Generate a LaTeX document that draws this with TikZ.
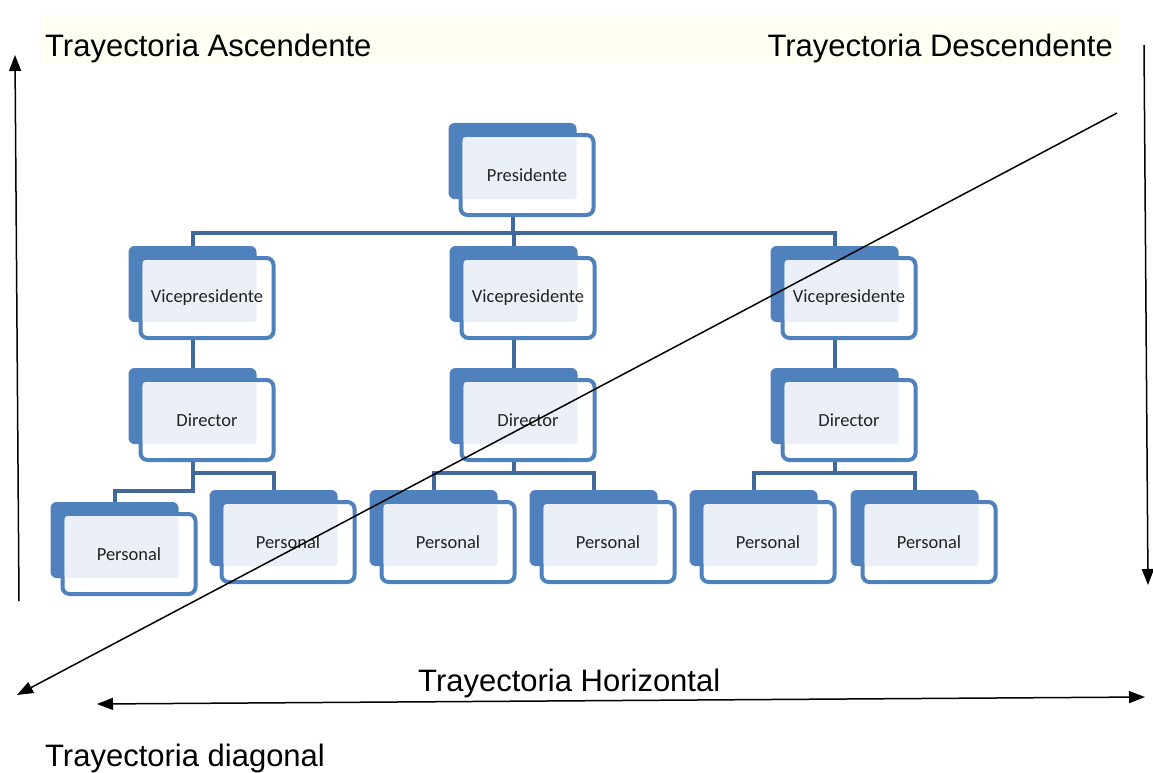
\documentclass[tikz,border=0pt]{standalone}
\usepackage{fontspec}
\setmainfont{Liberation Sans}
\newfontfamily\boxfont{Carlito}
\usetikzlibrary{arrows.meta,calc}
\pgfdeclarelayer{back}
\pgfdeclarelayer{bg}
\pgfsetlayers{back,bg,main}
\definecolor{boxblue}{HTML}{4F81BD}
\definecolor{connblue}{HTML}{41699C}
\definecolor{lightfill}{HTML}{EBF0F8}
\definecolor{cream}{HTML}{FEFEF3}
\definecolor{boxtext}{HTML}{222222}
\tikzset{
  backbox/.style={fill=boxblue, rounded corners=6pt, minimum width=128pt, minimum height=76pt, inner sep=0pt},
  frontbox/.style={draw=boxblue, fill=white, line width=4pt, rounded corners=7pt, minimum width=133pt, minimum height=80pt, inner sep=0pt},
  boxlabel/.style={font=\boxfont\fontsize{18.5}{21}\selectfont, text=boxtext, inner sep=0pt},
  conn/.style={draw=connblue, line width=4pt},
  arr/.style={line width=1.5pt, -{Triangle[length=16pt,width=12pt]}},
  darr/.style={line width=1.5pt, {Triangle[length=16pt,width=12pt]}-{Triangle[length=16pt,width=12pt]}},
  title/.style={font=\fontsize{31}{37}\selectfont, inner sep=0pt},
}
\newcommand{\orgbox}[4]{%
  \node[backbox] (#1b) at (#2-14.5,#3-14) {};
  \node[frontbox] (#1f) at (#2,#3) {};
  \fill[lightfill, rounded corners=3pt] (#2-64.5,#3-38) rectangle (#2+49.5,#3+24);
  \node[boxlabel] (#1) at (#2,#3) {#4};
}
\begin{document}
\begin{tikzpicture}[x=1pt,y=-1pt]
\useasboundingbox (0,0) rectangle (1153,773);
\begin{pgfonlayer}{back}
\fill[white] (0,0) rectangle (1153,773);
\fill[cream] (40,15) rectangle (1120,63);
\end{pgfonlayer}

\orgbox{pres}{527}{175}{Presidente}
\orgbox{v1}{207}{298}{Vicepresidente}
\orgbox{v2}{528}{298}{Vicepresidente}
\orgbox{v3}{849}{298}{Vicepresidente}
\orgbox{d1}{207}{420}{Director}
\orgbox{d2}{528}{420}{Director}
\orgbox{d3}{849}{420}{Director}
\orgbox{p1}{129}{554}{Personal}
\orgbox{p2}{288}{542}{Personal}
\orgbox{p3}{448}{542}{Personal}
\orgbox{p4}{608}{542}{Personal}
\orgbox{p5}{768}{542}{Personal}
\orgbox{p6}{929}{542}{Personal}

\coordinate (bar) at (0,233);
\coordinate (lb1) at (0,473);
\coordinate (lb2) at (0,491);
\begin{pgfonlayer}{bg}
\draw[conn] (presb.south) -- (presb.south |- bar);
\draw[conn] (v1b.north) |- (v3b.north |- bar) -- (v3b.north);
\draw[conn] (v2b.north) -- (v2b.north |- bar);
\draw[conn] (v1b.south) -- (d1b.north);
\draw[conn] (v2b.south) -- (d2b.north);
\draw[conn] (v3b.south) -- (d3b.north);
\draw[conn] (d1b.south) |- (p2b.north |- lb1) -- (p2b.north);
\draw[conn] (d1b.south) |- (p1b.north |- lb2) -- (p1b.north);
\draw[conn] (d2b.south) -- (d2b.south |- lb1);
\draw[conn] (p3b.north) |- (p4b.north |- lb1) -- (p4b.north);
\draw[conn] (d3b.south) -- (d3b.south |- lb1);
\draw[conn] (p5b.north) |- (p6b.north |- lb1) -- (p6b.north);
\end{pgfonlayer}

\node[title, anchor=base west] (tasc) at (45,57) {Trayectoria Ascendente};
\node[title, anchor=base east] (tdesc) at (1113,57) {Trayectoria Descendente};
\node[title, anchor=base west] (thor) at (418,691) {Trayectoria Horizontal};
\node[title, anchor=base west] (tdiag) at (45,766) {Trayectoria diagonal};

\coordinate (ascS) at (19,601);
\coordinate (ascE) at (15,55);
\coordinate (desS) at (1144,45);
\coordinate (desE) at (1148,585);
\coordinate (diaS) at (1117,113);
\coordinate (diaE) at (17,695);
\coordinate (horL) at (97,704);
\coordinate (horR) at (1145,697);
\draw[arr] (ascS) -- (ascE);
\draw[arr] (desS) -- (desE);
\draw[arr] (diaS) -- (diaE);
\draw[darr] (horL) -- (horR);
\end{tikzpicture}
\end{document}
